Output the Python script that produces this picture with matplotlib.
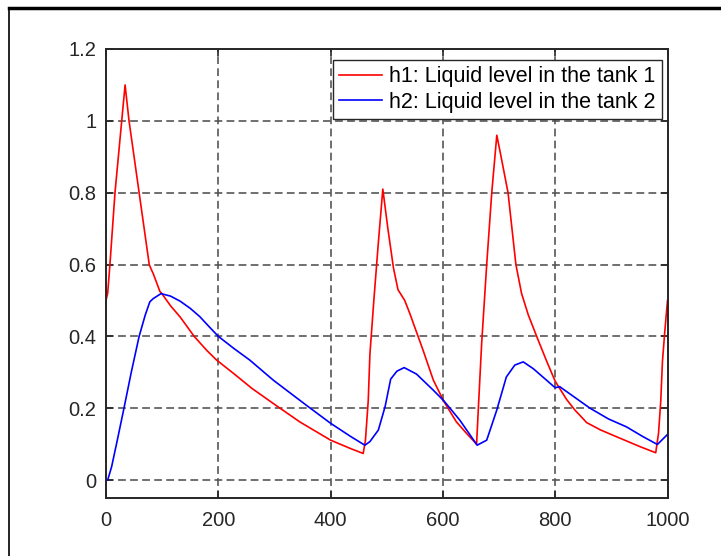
import numpy as np
import matplotlib
matplotlib.use('Agg')
import matplotlib.pyplot as plt
from matplotlib.lines import Line2D

plt.rcParams['font.family'] = ['Liberation Sans', 'DejaVu Sans']

# h1: tank 1 level
t1 = [0, 3, 7, 16, 28, 34, 41, 59, 77, 81, 84, 96, 99, 115, 132, 157, 180, 197, 227,
      260, 298, 345, 400, 435, 458, 462, 467, 470, 477, 485, 493, 502, 512, 520, 532,
      541, 565, 583, 602, 624, 642, 660, 663, 669, 678, 687, 696, 703, 716, 730, 740,
      752, 767, 785, 800, 820, 835, 856, 880, 910, 951, 979, 984, 988, 991, 995, 1000]
h1 = [0.50, 0.52, 0.60, 0.80, 1.00, 1.10, 1.00, 0.80, 0.60, 0.585, 0.575, 0.525, 0.52,
      0.485, 0.454, 0.40, 0.36, 0.334, 0.297, 0.255, 0.213, 0.162, 0.111, 0.088, 0.074,
      0.11, 0.22, 0.35, 0.50, 0.66, 0.81, 0.70, 0.59, 0.53, 0.50, 0.464, 0.36, 0.278,
      0.218, 0.162, 0.13, 0.100, 0.195, 0.38, 0.60, 0.80, 0.96, 0.905, 0.80, 0.60, 0.52,
      0.46, 0.40, 0.33, 0.275, 0.225, 0.195, 0.16, 0.14, 0.12, 0.093, 0.076, 0.13, 0.22,
      0.33, 0.41, 0.50]

# h2: tank 2 level
t2 = [0, 3, 10, 20, 32, 45, 59, 70, 78, 84, 98, 115, 132, 150, 167, 183, 200, 228, 256,
      298, 330, 357, 400, 435, 461, 470, 485, 497, 507, 518, 531, 553, 583, 602, 630,
      661, 678, 696, 713, 728, 743, 761, 800, 808, 835, 862, 895, 927, 955, 982, 1000]
h2 = [0.0, 0.0, 0.037, 0.11, 0.20, 0.30, 0.40, 0.46, 0.496, 0.505, 0.519, 0.512, 0.498,
      0.478, 0.455, 0.428, 0.40, 0.366, 0.334, 0.278, 0.24, 0.208, 0.158, 0.122, 0.097,
      0.107, 0.139, 0.204, 0.281, 0.303, 0.313, 0.295, 0.25, 0.22, 0.167, 0.097, 0.111,
      0.195, 0.287, 0.32, 0.329, 0.31, 0.257, 0.26, 0.23, 0.20, 0.17, 0.148, 0.122,
      0.099, 0.127]

labels = ['h1: Liquid level in the tank 1', 'h2: Liquid level in the tank 2']
xticks = [0, 200, 400, 600, 800, 1000]
yticks = [0, 0.2, 0.4, 0.6, 0.8, 1, 1.2]

fig = plt.figure(figsize=(7.21, 5.56), dpi=100)
ax = fig.add_axes([106/721, 1-498/556, 561.5/721, 449/556])

ax.plot(t1, h1, color='#ff0000', lw=1.2, label=labels[0])
ax.plot(t2, h2, color='#0000ff', lw=1.2, label=labels[1])

ax.set_xlim(0, 1000)
ax.set_ylim(-0.05, 1.2)
ax.set_xticks(xticks)
ax.set_xticklabels([str(v) for v in xticks])
ax.set_yticks(yticks)
ax.set_yticklabels(['0', '0.2', '0.4', '0.6', '0.8', '1', '1.2'])

ax.grid(True, color='#555555', lw=1.4, linestyle=(0, (4, 2.2)), alpha=0.85)
ax.tick_params(direction='in', length=5, width=1.2, top=True, right=True,
               labelsize=14.5, colors='#262626', pad=9)
ax.tick_params(axis='y', pad=7)
for s in ax.spines.values():
    s.set_linewidth(1.4)
    s.set_color('#262626')

leg = ax.legend(loc='upper right', bbox_to_anchor=(0.9897, 0.9755), borderaxespad=0,
                fontsize=15.5, handlelength=2.0, handletextpad=0.3, fancybox=False,
                framealpha=1, edgecolor='#262626', borderpad=0.3, labelspacing=0.2)
leg.get_frame().set_linewidth(1.0)

# outer figure frame (top and left edges visible in the crop)
fig.add_artist(Line2D([9/721, 1.0], [1-8/556, 1-8/556], color='black', lw=2.5,
                      transform=fig.transFigure))
fig.add_artist(Line2D([9/721, 9/721], [0, 1-8/556], color='black', lw=1.2,
                      transform=fig.transFigure))

fig.savefig('out.png', dpi=100)
